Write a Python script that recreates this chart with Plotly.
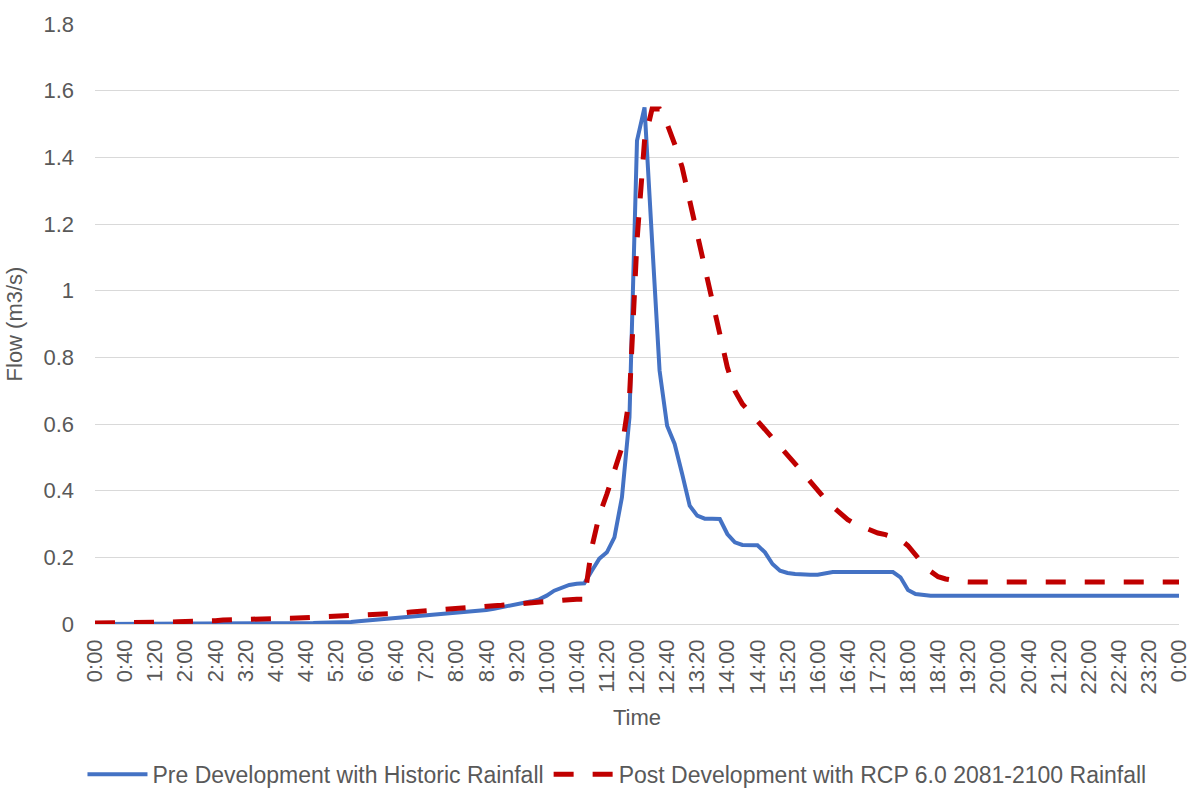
import plotly.graph_objects as go

# Category axis: one point every 10 minutes over 24 h (0:00 .. 0:00 next day)
minutes = list(range(0, 1441, 10))
tick_labels = ["0:00", "0:40", "1:20", "2:00", "2:40", "3:20", "4:00", "4:40", "5:20",
               "6:00", "6:40", "7:20", "8:00", "8:40", "9:20", "10:00", "10:40", "11:20",
               "12:00", "12:40", "13:20", "14:00", "14:40", "15:20", "16:00", "16:40",
               "17:20", "18:00", "18:40", "19:20", "20:00", "20:40", "21:20", "22:00",
               "22:40", "23:20", "0:00"]
tick_minutes = minutes[::4]

pre_name = "Pre Development with Historic Rainfall"
post_name = "Post Development with RCP 6.0 2081-2100 Rainfall"

pre_flow = [
    0.000, 0.000, 0.000, 0.000, 0.000, 0.000,   # 0:00-0:50
    0.000, 0.000, 0.000, 0.000, 0.000, 0.000,   # 1:00-1:50
    0.001, 0.001, 0.001, 0.001, 0.001, 0.001,   # 2:00-2:50
    0.001, 0.001, 0.002, 0.002, 0.002, 0.002,   # 3:00-3:50
    0.002, 0.002, 0.003, 0.003, 0.003, 0.003,   # 4:00-4:50
    0.004, 0.004, 0.005, 0.005, 0.006, 0.008,   # 5:00-5:50
    0.010, 0.012, 0.014, 0.016, 0.018, 0.020,   # 6:00-6:50
    0.022, 0.024, 0.027, 0.029, 0.031, 0.033,   # 7:00-7:50
    0.034, 0.035, 0.037, 0.039, 0.042, 0.046,   # 8:00-8:50
    0.050, 0.055, 0.060, 0.064, 0.068, 0.074,   # 9:00-9:50
    0.085, 0.100, 0.110, 0.117, 0.121, 0.122,   # 10:00-10:50
    0.160, 0.196, 0.215, 0.260, 0.380, 0.620,   # 11:00-11:50
    1.450, 1.550, 1.150, 0.760, 0.595, 0.540,   # 12:00-12:50
    0.450, 0.355, 0.325, 0.316, 0.316, 0.315,   # 13:00-13:50
    0.270, 0.245, 0.237, 0.236, 0.236, 0.215,   # 14:00-14:50
    0.180, 0.160, 0.153, 0.150, 0.148, 0.148,   # 15:00-15:50
    0.148, 0.152, 0.156, 0.156, 0.156, 0.156,   # 16:00-16:50
    0.156, 0.156, 0.156, 0.156, 0.156, 0.140,   # 17:00-17:50
    0.102, 0.090, 0.086, 0.085, 0.085, 0.085,   # 18:00-18:50
    0.085, 0.085, 0.085, 0.085, 0.085, 0.085,   # 19:00-19:50
    0.085, 0.085, 0.085, 0.085, 0.085, 0.085,   # 20:00-20:50
    0.085, 0.085, 0.085, 0.085, 0.085, 0.085,   # 21:00-21:50
    0.085, 0.085, 0.085, 0.085, 0.085, 0.085,   # 22:00-22:50
    0.085, 0.085, 0.085, 0.085, 0.085, 0.085,   # 23:00-23:50
    0.085,                                      # 0:00
]

post_flow = [
    0.003, 0.003, 0.003, 0.004, 0.004, 0.004,   # 0:00-0:50
    0.005, 0.005, 0.005, 0.006, 0.006, 0.007,   # 1:00-1:50
    0.007, 0.008, 0.008, 0.009, 0.010, 0.012,   # 2:00-2:50
    0.013, 0.014, 0.015, 0.015, 0.016, 0.016,   # 3:00-3:50
    0.016, 0.017, 0.017, 0.018, 0.018, 0.019,   # 4:00-4:50
    0.020, 0.021, 0.022, 0.023, 0.024, 0.025,   # 5:00-5:50
    0.026, 0.027, 0.027, 0.028, 0.030, 0.033,   # 6:00-6:50
    0.036, 0.038, 0.040, 0.041, 0.043, 0.045,   # 7:00-7:50
    0.046, 0.047, 0.049, 0.051, 0.053, 0.055,   # 8:00-8:50
    0.056, 0.058, 0.060, 0.063, 0.066, 0.067,   # 9:00-9:50
    0.068, 0.070, 0.072, 0.073, 0.074, 0.074,   # 10:00-10:50
    0.230, 0.327, 0.390, 0.460, 0.530, 0.680,   # 11:00-11:50
    1.150, 1.450, 1.545, 1.545, 1.500, 1.440,   # 12:00-12:50
    1.370, 1.270, 1.170, 1.070, 0.960, 0.870,   # 13:00-13:50
    0.770, 0.700, 0.660, 0.635, 0.610, 0.585,   # 14:00-14:50
    0.560, 0.530, 0.505, 0.480, 0.455, 0.428,   # 15:00-15:50
    0.400, 0.375, 0.352, 0.332, 0.313, 0.300,   # 16:00-16:50
    0.290, 0.280, 0.273, 0.268, 0.262, 0.253,   # 17:00-17:50
    0.235, 0.205, 0.180, 0.158, 0.142, 0.135,   # 18:00-18:50
    0.130, 0.127, 0.126, 0.126, 0.126, 0.126,   # 19:00-19:50
    0.126, 0.126, 0.126, 0.126, 0.126, 0.126,   # 20:00-20:50
    0.126, 0.126, 0.126, 0.126, 0.126, 0.126,   # 21:00-21:50
    0.126, 0.126, 0.126, 0.126, 0.126, 0.126,   # 22:00-22:50
    0.126, 0.126, 0.126, 0.126, 0.126, 0.126,   # 23:00-23:50
    0.126,                                      # 0:00
]

y_ticks = [0, 0.2, 0.4, 0.6, 0.8, 1.0, 1.2, 1.4, 1.6, 1.8]
y_tick_text = ["0", "0.2", "0.4", "0.6", "0.8", "1", "1.2", "1.4", "1.6", "1.8"]

TEXT = "#595959"
GRID = "#D9D9D9"
FONT = "Liberation Sans, Arial, sans-serif"

fig = go.Figure()
fig.add_trace(go.Scatter(
    x=minutes, y=pre_flow, mode="lines", name=pre_name,
    line=dict(color="#4472C4", width=4),
))
fig.add_trace(go.Scatter(
    x=minutes, y=post_flow, mode="lines", name=post_name,
    line=dict(color="#C00000", width=5, dash="20px,19px"),
))

fig.update_layout(
    width=1192, height=791,
    margin=dict(l=95, r=13, t=24, b=167, autoexpand=False),
    paper_bgcolor="white", plot_bgcolor="white",
    font=dict(family=FONT, size=22, color=TEXT),
    showlegend=True,
    legend=dict(orientation="h", xref="container", yref="container",
                x=0.5176, xanchor="center", y=0.021, yanchor="middle",
                font=dict(size=23, color=TEXT),
                itemwidth=60, tracegroupgap=0),
)
fig.update_xaxes(
    range=[0, 1440], tickmode="array", tickvals=tick_minutes, ticktext=tick_labels,
    tickangle=-90, showgrid=False, zeroline=False, showline=False, ticks="",
    ticklabelstandoff=10, automargin=False,
    title=dict(text="Time", font=dict(size=22, color=TEXT), standoff=16),
)
fig.update_yaxes(
    range=[0, 1.8], tickmode="array", tickvals=y_ticks, ticktext=y_tick_text,
    showgrid=True, gridcolor=GRID, gridwidth=1,
    zeroline=True, zerolinecolor=GRID, zerolinewidth=1,
    showline=False, ticks="", ticklabelstandoff=20, automargin=False,
    title=dict(text="Flow (m3/s)", font=dict(size=22, color=TEXT), standoff=14),
)

fig.write_html("out.html")
